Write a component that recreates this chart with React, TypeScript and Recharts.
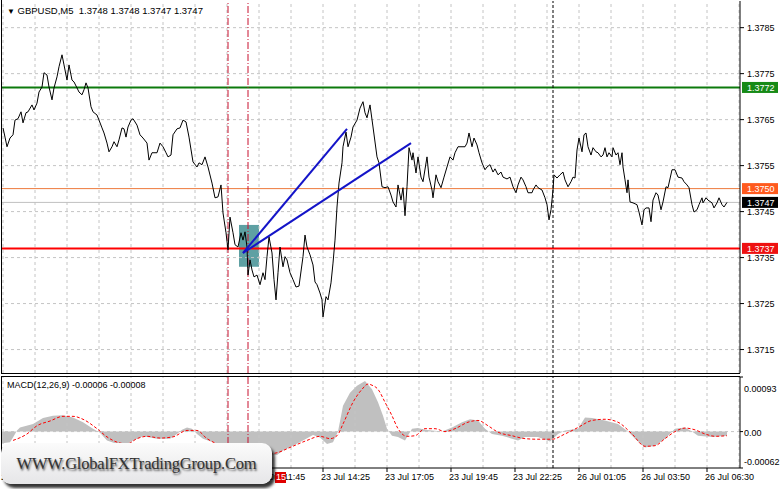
import React from "react";
import {
  ComposedChart,
  Line,
  Area,
  XAxis,
  YAxis,
  ReferenceLine,
  ReferenceArea,
} from "recharts";

const FONT = "'Liberation Sans', Arial, sans-serif";

// [bar index, close]
const PRICE: [number, number][] = [
  [0, 1.37632], [1, 1.37612], [2, 1.37591], [3.5, 1.3761], [5, 1.37617], [6, 1.37649], [7.5, 1.37652], [9, 1.37667],
  [10, 1.37643], [11.5, 1.37665], [12.5, 1.37667], [14.5, 1.37682], [15.5, 1.37671], [17, 1.37686], [18, 1.3771],
  [19.5, 1.37721], [20.5, 1.37752], [22, 1.37747], [23, 1.37721], [24.5, 1.37693], [25.5, 1.37719], [27, 1.37743],
  [28, 1.37765], [29.5, 1.37791], [30.5, 1.37769], [32, 1.37736], [33, 1.37769], [34.5, 1.37736], [35.5, 1.37732],
  [37, 1.37719], [38, 1.3771], [39.5, 1.37704], [40.5, 1.37715], [41.5, 1.3773], [42.5, 1.37719], [44, 1.37678],
  [45, 1.37667], [47, 1.3766], [48, 1.37649], [49.5, 1.37632], [50.5, 1.37621], [52, 1.37599], [53, 1.3758],
  [54.5, 1.37591], [55.5, 1.37602], [57, 1.37591], [58, 1.37606], [59.5, 1.37632], [60.5, 1.3763], [61.5, 1.37612],
  [62.5, 1.37634], [64, 1.37649], [65, 1.37652], [67, 1.37638], [68.5, 1.37617], [70, 1.3761], [72, 1.37599],
  [73, 1.37562], [74.5, 1.37578], [75.5, 1.37578], [77, 1.37578], [78.5, 1.37599], [80, 1.37591], [81.5, 1.37578],
  [82.5, 1.37569], [84, 1.37573], [85, 1.37617], [87, 1.3763], [88.5, 1.37632], [90, 1.37649], [91.5, 1.37645],
  [93, 1.37612], [95, 1.37558], [97, 1.37547], [98, 1.37556], [99.5, 1.37552], [101, 1.37569], [102.5, 1.37547],
  [104.5, 1.37512], [106, 1.3748], [107.5, 1.37482], [109, 1.37508], [110, 1.37447], [111.5, 1.37404], [112.5, 1.37367],
  [113.5, 1.37438], [115, 1.37404], [116, 1.37378], [117.5, 1.37373], [119, 1.37404], [120, 1.37388], [121, 1.37406],
  [122, 1.37373], [122.5, 1.37312], [123.5, 1.37345], [124.5, 1.37323], [125.5, 1.37308], [127, 1.37312],
  [128.5, 1.37291], [130, 1.37317], [131, 1.37302], [132, 1.37352], [133, 1.37395], [134.5, 1.3736], [135.5, 1.37302],
  [136.5, 1.37258], [137.5, 1.37317], [138.5, 1.37373], [140, 1.3733], [141, 1.37352], [142, 1.37345], [143.5, 1.37317],
  [145, 1.37302], [146.5, 1.37286], [148, 1.37288], [150, 1.37352], [151, 1.37399], [152, 1.37373], [153.5, 1.37356],
  [155, 1.37334], [156, 1.37297], [157, 1.37291], [158.5, 1.37273], [159.5, 1.37258], [160, 1.37221], [161.5, 1.37265],
  [162.5, 1.37258], [164, 1.37295], [165, 1.37338], [166, 1.37388], [167, 1.3746], [168, 1.37512], [169.5, 1.37556],
  [170, 1.37591], [171.5, 1.37623], [172.5, 1.37591], [174, 1.37612], [175, 1.37634], [177, 1.37649], [178.5, 1.37675],
  [180, 1.37689], [181, 1.37665], [182, 1.37654], [183.5, 1.37682], [185, 1.37634], [187, 1.37569], [188, 1.37556],
  [189.5, 1.37504], [191, 1.37502], [192.5, 1.37504], [194, 1.37486], [195, 1.37471], [196.5, 1.3746], [197.5, 1.37508],
  [199, 1.37475], [200, 1.37502], [201, 1.37441], [202, 1.37504], [203, 1.37589], [204.5, 1.37562], [205, 1.37578],
  [206.5, 1.37534], [207.5, 1.37569], [209, 1.37525], [210, 1.37515], [212, 1.37569], [213, 1.37525], [214.5, 1.37497],
  [215, 1.3748], [216.5, 1.3753], [217.5, 1.37515], [219, 1.37502], [220.5, 1.37525], [222, 1.37547], [223.5, 1.37569],
  [225, 1.37562], [226, 1.37578], [227.5, 1.37591], [229.5, 1.37591], [231, 1.37591], [232, 1.37599], [233, 1.37621],
  [234.5, 1.37591], [235.5, 1.3761], [237, 1.37595], [238, 1.37578], [239.5, 1.37556], [241, 1.37541], [242, 1.37547],
  [243.5, 1.37552], [245, 1.37536], [246, 1.37543], [247.5, 1.3753], [249, 1.37536], [250, 1.37525], [252, 1.37521],
  [253.5, 1.37525], [255, 1.37504], [256.5, 1.37491], [257.5, 1.37508], [259, 1.37525], [260, 1.37519], [261.5, 1.37504],
  [262.5, 1.37491], [264.5, 1.37491], [265, 1.37497], [266.5, 1.37508], [267.5, 1.37502], [269.5, 1.37497], [271, 1.3748],
  [272, 1.37465], [273, 1.37432], [274, 1.37454], [275, 1.37497], [275.5, 1.3753], [277, 1.37523], [278.5, 1.3753],
  [280, 1.37536], [281, 1.37519], [282.5, 1.37504], [284, 1.37515], [285, 1.37525], [286, 1.37523], [287, 1.37584],
  [288, 1.3761], [289.5, 1.3758], [290.5, 1.37617], [291.5, 1.37621], [292.5, 1.37591], [294, 1.37573], [295, 1.37589],
  [296.5, 1.3758], [297.5, 1.37578], [299, 1.37569], [300, 1.37573], [301, 1.37589], [302, 1.37569], [303, 1.37578],
  [304.5, 1.37569], [305, 1.37589], [306.5, 1.37573], [307.5, 1.37578], [308.5, 1.37552], [309.5, 1.37578], [310, 1.37547],
  [311, 1.37519], [312, 1.37491], [312.5, 1.37519], [313.5, 1.37471], [315, 1.37469], [317, 1.37465], [318, 1.37449],
  [319.5, 1.37421], [320.5, 1.37454], [321.5, 1.37458], [323, 1.37458], [324, 1.37428], [325, 1.37475], [326.5, 1.37491],
  [327.5, 1.37486], [329, 1.37454], [330, 1.37471], [331.5, 1.37504], [332.5, 1.37502], [334.5, 1.37541], [336, 1.37541],
  [337.5, 1.37525], [339.5, 1.37523], [340.5, 1.37515], [342, 1.37508], [343, 1.37502], [344.5, 1.37465], [345.5, 1.37449],
  [347, 1.37454], [348, 1.37465], [349.5, 1.3748], [350, 1.37469], [351.5, 1.3748], [352.5, 1.37475], [354.5, 1.37469],
  [355.5, 1.37458], [357, 1.37469], [358, 1.3748], [359.5, 1.37465], [360.5, 1.3746], [362, 1.3747],
];

// MACD main (histogram) and signal, [bar index, value]
const HIST: [number, number][] = [
  [-0.5, -0.0002], [3.5, -0.00018], [5, -0.0001], [7, 0.00002], [8.5, 0.00007], [15, 0.00013], [20, 0.00023],
  [25, 0.00027], [30, 0.00028], [35, 0.00024], [40, 0.00016], [45, 0.00005], [48.5, -0.00002], [52, -0.00015],
  [57, -0.00021], [62, -0.00021], [65, -0.00015], [70, -0.00008], [77, -0.00012], [83.5, -0.00012], [87, -0.00004],
  [89.5, 0.00003], [92, 0.00007], [94.5, 0.00005], [97, -0.00004], [100, -0.00012], [105, -0.00018], [112, -0.00024],
  [117, -0.00032], [122, -0.0004], [129.5, -0.00042], [137, -0.0004], [140, -0.00032], [145, -0.00024], [150, -0.00015],
  [155, -0.00006], [158.5, -0.0001], [162, -0.00021], [165, -0.00018], [167.5, 0], [170, 0.00044], [173.5, 0.00066],
  [177, 0.00078], [181, 0.00086], [184.5, 0.00072], [187.5, 0.0005], [190, 0.00027], [192, 0.00005], [194.5, -0.00007],
  [197.5, -0.00009], [201, -0.00015], [204.5, 0.00005], [207.5, 0.00006], [211, 0.00003], [214.5, 0.00002], [219.5, 0],
  [224.5, 0.00007], [229.5, 0.00016], [233.5, 0.00021], [237.5, 0.00019], [241, 0.00005], [244.5, -0.00004],
  [249.5, -0.00007], [254.5, -0.00012], [257.5, -0.00015], [261, -0.00009], [267.5, -0.00009], [273.5, -0.00017],
  [277.5, -0.00004], [281, 0.00002], [287.5, 0.00005], [291, 0.00024], [294.5, 0.00023], [301, 0.00019],
  [307.5, 0.00013], [312.5, 0], [316, -0.00012], [321, -0.00027], [326, -0.00024], [331, -0.00012], [336, 0.00005],
  [341, 0.00007], [344.5, 0], [347.5, -0.00007], [354.5, -0.00009], [362, -0.00007],
];

const SIGNAL: [number, number][] = [
  [5, -0.00015], [12, -0.00004], [17, 0.0001], [23.5, 0.00018], [30, 0.00026], [35, 0.00026], [40, 0.00021],
  [47, 0.00005], [52, -0.00009], [57, -0.00018], [62, -0.00021], [67, -0.00012], [72, -0.00008], [78.5, -0.00011],
  [85, -0.00009], [92, 0.00002], [97, 0.00002], [102, -0.00012], [107, -0.00021], [112, -0.00029], [122, -0.00036],
  [129.5, -0.00039], [137, -0.00036], [143.5, -0.00027], [152, -0.00015], [158.5, -0.00008], [163.5, -0.00012],
  [167, -0.00007], [170, 0.00013], [175, 0.0005], [179.5, 0.00072], [182.5, 0.00081], [184.5, 0.00079], [187.5, 0.00072],
  [191, 0.0005], [194.5, 0.00027], [197.5, 0.00005], [202, -0.00008], [206, -0.00007], [211, 0.00005], [216, 0.00005],
  [221, 0], [226, 0.00005], [232.5, 0.00016], [237.5, 0.00019], [242.5, 0.0001], [247.5, -0.00001], [254.5, -0.00007],
  [261, -0.00012], [267.5, -0.00013], [274.5, -0.00013], [281, -0.00004], [287.5, 0.00007], [294.5, 0.00019],
  [301, 0.00021], [307.5, 0.00016], [314.5, -0.00004], [321, -0.00025], [326, -0.00024], [331, -0.00012], [336, 0],
  [341, 0.00006], [346, 0.00003], [351, -0.00004], [356, -0.00008], [362, -0.00007],
];

const PRICE_TICKS = [1.3715, 1.3725, 1.3735, 1.3745, 1.3755, 1.3765, 1.3775, 1.3785];
const MACD_TICKS = [-0.00062, 0, 0.00093];
const GRID_BARS = [
  0, 16, 32, 48, 64, 80, 96, 112, 128, 144, 160, 176, 192, 208, 224, 240, 256, 272, 288, 304, 320, 336, 352, 368,
];
const TIME_BARS = [0, 32, 64, 96, 128, 160, 192, 224, 256, 288, 320, 352];
const TIME_LABELS = [
  "23 Jul 01:05", "23 Jul 03:45", "23 Jul 06:25", "23 Jul 09:05", "23 Jul 11:45", "23 Jul 14:25",
  "23 Jul 17:05", "23 Jul 19:45", "23 Jul 22:25", "26 Jul 01:05", "26 Jul 03:50", "26 Jul 06:30",
];

// horizontal levels: resistance, pivot, bid, support
const LEVEL_PRICES = [1.3772, 1.375, 1.3747, 1.3737];
const LEVEL_STYLE = [
  { stroke: "#0d7a0d", width: 2, tag: "#168a16" },
  { stroke: "#ee7a3c", width: 1, tag: "#ff5a1e" },
  { stroke: "#c0c0c0", width: 1, tag: "#000000" },
  { stroke: "#ff0000", width: 2, tag: "#ee1111" },
];

const TREND_START: [number, number] = [120, 1.3736];
const TREND_ENDS: [number, number][] = [[172, 1.3763], [204, 1.37599]];
const ENTRY_ZONE = { x1: 118, x2: 128, y1: 1.3733, y2: 1.37421 };
const RED_MARKERS = [112.5, 122.5];
const BLACK_MARKERS = [275];

const X_DOMAIN: [number, number] = [-0.5, 368.5];

const toRows = (arr: [number, number][]) => arr.map(([b, v]) => ({ b, v }));

const PriceTick = ({ x, y, payload }: any) => (
  <text x={x} y={y} dy="0.35em" fontSize={9} fontFamily={FONT} fill="#000" textAnchor="start">
    {payload.value.toFixed(4)}
  </text>
);

const MacdTick = ({ x, y, payload }: any) => {
  const v = payload.value;
  const label = v === 0 ? "0.00" : v.toFixed(5);
  const shift = v > 0 ? 4 : v < 0 ? -6 : 1;
  return (
    <text x={x} y={y + shift} dy="0.35em" fontSize={9} fontFamily={FONT} fill="#000" textAnchor="start">
      {label}
    </text>
  );
};

const TimeTick = ({ x, y, payload }: any) => {
  const i = TIME_BARS.indexOf(payload.value);
  return (
    <text x={x - 2} y={y} dy="0.71em" fontSize={9} fontFamily={FONT} fill="#000" textAnchor="start">
      {TIME_LABELS[i]}
    </text>
  );
};

const LevelTag = ({ viewBox, text, fill }: any) => {
  if (!viewBox) return null;
  const x = viewBox.x + viewBox.width + 2;
  const y = viewBox.y;
  return (
    <g>
      <rect x={x} y={y - 5.5} width={36} height={11} fill={fill} />
      <text x={x + 5} y={y} dy="0.35em" fontSize={9} fontFamily={FONT} fill="#fff">
        {text}
      </text>
    </g>
  );
};

export default function App() {
  return (
    <div style={{ position: "absolute", left: 0, top: 0, width: 781, height: 489, background: "#fff", overflow: "hidden" }}>
      <div style={{ position: "absolute", left: 0, top: 0 }}>
        <ComposedChart width={781} height={374} margin={{ top: 1, right: 0, bottom: 1, left: 2 }}>
          <XAxis type="number" dataKey="b" domain={X_DOMAIN} allowDataOverflow hide />
          <YAxis
            orientation="right"
            type="number"
            domain={[1.37099, 1.37908]}
            allowDataOverflow
            ticks={PRICE_TICKS}
            width={41}
            tick={<PriceTick />}
            tickSize={4}
            tickMargin={3}
            axisLine={{ stroke: "#000" }}
            tickLine={{ stroke: "#000" }}
          />
          {GRID_BARS.map((b) => (
            <ReferenceLine key={"gx" + b} x={b} stroke="#c4c4c4" strokeDasharray="3 3" />
          ))}
          {PRICE_TICKS.map((p) => (
            <ReferenceLine key={"gy" + p} y={p} stroke="#c4c4c4" strokeDasharray="3 3" />
          ))}
          <ReferenceArea {...ENTRY_ZONE} fill="#4d9699" fillOpacity={0.9} stroke="none" />
          {LEVEL_PRICES.map((p, i) => (
            <ReferenceLine
              key={"lv" + p}
              y={p}
              stroke={LEVEL_STYLE[i].stroke}
              strokeWidth={LEVEL_STYLE[i].width}
              label={<LevelTag text={p.toFixed(4)} fill={LEVEL_STYLE[i].tag} />}
            />
          ))}
          {RED_MARKERS.map((b) => (
            <ReferenceLine key={"rm" + b} x={b} stroke="#c8102e" strokeDasharray="7 2 1 2" />
          ))}
          {BLACK_MARKERS.map((b) => (
            <ReferenceLine key={"bm" + b} x={b} stroke="#000" strokeDasharray="3 2" />
          ))}
          <Line
            data={toRows(PRICE)}
            dataKey="v"
            type="linear"
            stroke="#000"
            strokeWidth={1}
            dot={false}
            isAnimationActive={false}
          />
          {TREND_ENDS.map((end, i) => (
            <ReferenceLine
              key={"tr" + i}
              segment={[
                { x: TREND_START[0], y: TREND_START[1] },
                { x: end[0], y: end[1] },
              ]}
              stroke="#1414c8"
              strokeWidth={2}
            />
          ))}
        </ComposedChart>
      </div>

      <div style={{ position: "absolute", left: 0, top: 376 }}>
        <ComposedChart width={781} height={113} margin={{ top: 1, right: 0, bottom: 0, left: 2 }}>
          <XAxis
            type="number"
            dataKey="b"
            domain={X_DOMAIN}
            allowDataOverflow
            ticks={TIME_BARS}
            interval={0}
            height={21}
            tick={<TimeTick />}
            tickSize={4}
            tickMargin={2}
            axisLine={{ stroke: "#000" }}
            tickLine={{ stroke: "#000" }}
          />
          <YAxis
            orientation="right"
            type="number"
            domain={[-0.00062, 0.00093]}
            allowDataOverflow
            ticks={MACD_TICKS}
            width={41}
            tick={<MacdTick />}
            tickSize={3}
            tickMargin={1}
            axisLine={{ stroke: "#000" }}
            tickLine={{ stroke: "#000" }}
          />
          {GRID_BARS.map((b) => (
            <ReferenceLine key={"mgx" + b} x={b} stroke="#c4c4c4" strokeDasharray="3 3" />
          ))}
          <ReferenceLine y={0} stroke="#c4c4c4" strokeDasharray="3 3" />
          <Area
            data={toRows(HIST)}
            dataKey="v"
            type="linear"
            baseValue={0}
            fill="#c0c0c0"
            fillOpacity={1}
            stroke="none"
            isAnimationActive={false}
          />
          <Line
            data={toRows(SIGNAL)}
            dataKey="v"
            type="monotone"
            stroke="#ff0000"
            strokeWidth={1}
            strokeDasharray="3 2"
            dot={false}
            isAnimationActive={false}
          />
          {RED_MARKERS.map((b) => (
            <ReferenceLine key={"mrm" + b} x={b} stroke="#c8102e" strokeDasharray="7 2 1 2" />
          ))}
          {BLACK_MARKERS.map((b) => (
            <ReferenceLine key={"mbm" + b} x={b} stroke="#000" strokeDasharray="3 2" />
          ))}
        </ComposedChart>
      </div>

      {/* panel frames */}
      <div style={{ position: "absolute", left: 1, top: 0, width: 739, height: 374, borderLeft: "1px solid #000", borderBottom: "1px solid #000", boxSizing: "border-box", pointerEvents: "none" }} />
      <div style={{ position: "absolute", left: 1, top: 376, width: 739, height: 93, borderLeft: "1px solid #000", borderTop: "1px solid #000", boxSizing: "border-box", pointerEvents: "none" }} />

      <div style={{ position: "absolute", left: 7, top: 5, fontFamily: FONT, fontSize: 9.5, color: "#000", whiteSpace: "pre" }}>
        <span style={{ fontSize: 8 }}>▼</span>{" GBPUSD,M5  1.3748 1.3748 1.3747 1.3747"}
      </div>
      <div style={{ position: "absolute", left: 7, top: 380, fontFamily: FONT, fontSize: 9, color: "#000", whiteSpace: "pre" }}>
        MACD(12,26,9) -0.00006 -0.00008
      </div>

      <div style={{ position: "absolute", left: 275, top: 472, width: 11, height: 11, background: "#e00000", color: "#fff", fontFamily: FONT, fontSize: 9, lineHeight: "11px", textAlign: "right" }}>
        15
      </div>

      {/* site watermark */}
      <div
        style={{
          position: "absolute",
          left: 1,
          top: 443,
          width: 271,
          height: 41,
          borderRadius: 10,
          background: "linear-gradient(#fbfbfb, #e6e6e8)",
          boxShadow: "3px 4px 3px rgba(0,0,0,0.8)",
          display: "flex",
          alignItems: "center",
          justifyContent: "center",
          fontFamily: "'Liberation Serif', 'Times New Roman', serif",
          fontSize: 16.5,
          color: "#333",
          textShadow: "1px 2px 2px rgba(0,0,0,0.6)",
          letterSpacing: -0.2,
        }}
      >
        WWW.GlobalFXTradingGroup.Com
      </div>
    </div>
  );
}
